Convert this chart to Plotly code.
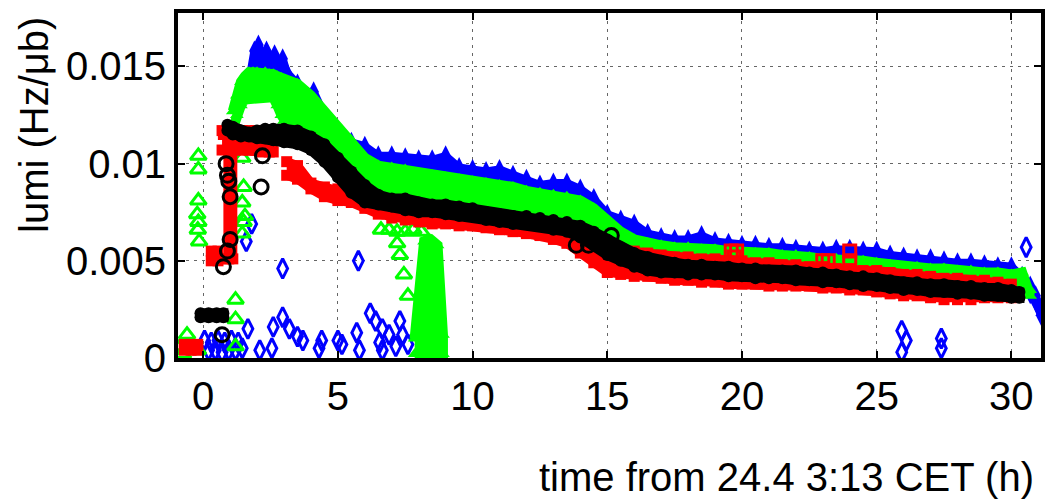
import plotly.graph_objects as go

# ---------------- data (time in h, lumi in Hz/ub) ----------------
x_ticks = [0, 5, 10, 15, 20, 25, 30]
x_ticktext = ["0", "5", "10", "15", "20", "25", "30"]
y_ticks = [0, 0.005, 0.01, 0.015]
y_ticktext = ["0", "0.005", "0.01", "0.015"]

# blue (diamonds) main band
blue_t = [1.75, 1.9, 2.05, 2.2, 2.35, 2.5, 2.65, 2.8, 2.95, 3.1,
          3.5, 4.0, 4.1, 4.5,
          5.0, 5.5, 6.0, 6.5, 7.0, 7.5, 8.0, 8.5, 9.0, 9.5, 10.0, 10.5, 11.0, 11.5,
          12.0, 12.5, 13.0, 13.5, 14.0, 14.5, 15.0, 15.5, 16.0, 16.5, 17.0, 17.5,
          18.0, 18.5, 19.0, 19.5, 20.0, 20.5, 21.0, 21.5, 22.0, 22.5, 23.0, 23.5,
          24.0, 24.5, 25.0, 25.5, 26.0, 26.5, 27.0, 27.5, 28.0, 28.5, 29.0, 29.5, 30.0,
          30.4, 30.7, 30.9, 31.1]
blue_hi = [0.0146, 0.0158, 0.0161, 0.0155, 0.0158, 0.0153, 0.0156, 0.0151, 0.0154, 0.0147,
           0.0141, 0.0134, 0.0137, 0.0125,
           0.0117, 0.0111, 0.0109, 0.0104, 0.0104, 0.0103, 0.0102, 0.0102, 0.0104, 0.0098,
           0.0097, 0.0096, 0.0097, 0.0094, 0.0092, 0.0089, 0.0090, 0.0090, 0.0087, 0.0082,
           0.0074, 0.0071, 0.0069, 0.0064, 0.0062, 0.0061, 0.0061, 0.0063, 0.0060, 0.0059,
           0.0058, 0.0058, 0.0057, 0.0057, 0.0056, 0.0055, 0.0055, 0.0056, 0.0056, 0.0055,
           0.0055, 0.0053, 0.0052, 0.0051, 0.0051, 0.0050, 0.0049, 0.0049, 0.0048, 0.0047,
           0.0047,
           0.0042, 0.0037, 0.0032, 0.0025]
blue_lo = [0.0138, 0.0142, 0.0143, 0.0143, 0.0143, 0.0143, 0.0143, 0.0142, 0.0141, 0.0140,
           0.0136, 0.0130, 0.0128, 0.0120,
           0.0112, 0.0105, 0.0098, 0.0096, 0.0095, 0.0094, 0.0092, 0.0091, 0.0090, 0.0089,
           0.0088, 0.0087, 0.0086, 0.0085, 0.0083, 0.0082, 0.0081, 0.0080, 0.0078, 0.0074,
           0.0068, 0.0062, 0.0058, 0.0056, 0.0055, 0.0054, 0.0054, 0.0053, 0.0053, 0.0052,
           0.0052, 0.0051, 0.0051, 0.0050, 0.0050, 0.0049, 0.0048, 0.0048, 0.0047, 0.0047,
           0.0046, 0.0045, 0.0044, 0.0044, 0.0043, 0.0043, 0.0042, 0.0042, 0.0041, 0.0041,
           0.0040,
           0.0038, 0.0033, 0.0029, 0.0022]
blue_out_x = [0.05, 0.3, 0.55, 0.8, 1.05, 1.3, 0.2, 0.45, 0.7, 0.95, 1.2, 1.45,
              1.6, 1.8, 1.66, 2.1, 2.55, 2.6, 2.95, 2.95, 3.2, 3.5, 3.7, 4.3, 4.4,
              5.0, 5.15, 5.7, 5.76, 5.8, 6.2, 6.4, 6.55, 6.65, 6.65, 6.9, 7.15, 7.3,
              7.4, 7.6, 25.93, 26.1, 25.93, 27.4, 27.4, 30.55]
blue_out_y = [0.0009, 0.0008, 0.0009, 0.0008, 0.0009, 0.0008, 0.0004, 0.0004, 0.0003,
              0.0004, 0.0004, 0.0005,
              0.0060, 0.0069, 0.0015, 0.0004, 0.0005, 0.0016, 0.0021, 0.0046, 0.0015,
              0.0011, 0.0009, 0.0005, 0.0009, 0.0009, 0.0007, 0.0013, 0.0050, 0.0004,
              0.0023, 0.0019, 0.0008, 0.0015, 0.0004, 0.0012, 0.0006, 0.0019, 0.0012,
              0.0007, 0.0014, 0.0009, 0.0003, 0.0010, 0.0005, 0.0057]

# green (triangles) main band
green_t = [1.1, 1.25, 1.4, 1.55, 1.7, 1.85, 2.0, 2.15, 2.3, 2.45, 2.6, 2.75, 2.9, 3.0,
           3.5, 4.0, 4.5, 5.0, 5.5, 6.0, 6.5, 7.0, 7.5, 8.0, 8.5, 9.0, 9.5, 10.0, 10.5,
           11.0, 11.5, 12.0, 12.5, 13.0, 13.5, 14.0, 14.5, 15.0, 15.5, 16.0, 16.5, 17.0,
           17.5, 18.0, 18.5, 19.0, 19.5, 20.0, 20.5, 21.0, 21.5, 22.0, 22.5, 23.0, 23.5,
           24.0, 24.5, 25.0, 25.5, 26.0, 26.5, 27.0, 27.5, 28.0, 28.5, 29.0, 29.5, 30.0,
           30.4, 30.7]
green_hi = [0.0127, 0.0135, 0.0142, 0.0145, 0.0147, 0.0147, 0.0147, 0.0146, 0.0147, 0.0146,
            0.0146, 0.0145, 0.0144, 0.0143,
            0.0141, 0.0135, 0.0127, 0.0119, 0.0112, 0.0103, 0.0099, 0.0098, 0.0097, 0.0095,
            0.0094, 0.0093, 0.0092, 0.0091, 0.0090, 0.0089, 0.0088, 0.0086, 0.0085, 0.0084,
            0.0083, 0.0081, 0.0077, 0.0071, 0.0065, 0.0061, 0.0059, 0.0058, 0.0057, 0.0057,
            0.0056, 0.0056, 0.0055, 0.0055, 0.0054, 0.0054, 0.0053, 0.0053, 0.0052, 0.0051,
            0.0051, 0.0050, 0.0050, 0.0049, 0.0048, 0.0047, 0.0047, 0.0046, 0.0046, 0.0045,
            0.0045, 0.0044, 0.0044, 0.0043,
            0.0044, 0.0035]
green_lo = [0.0118, 0.0125, 0.0130, 0.0133, 0.0134, 0.0134, 0.0134, 0.0134, 0.0134, 0.0134,
            0.0134, 0.0130, 0.0125, 0.0122,
            0.0112, 0.0109, 0.0103, 0.0095, 0.0088, 0.0083, 0.0081, 0.0078, 0.0076, 0.0075,
            0.0075, 0.0074, 0.0073, 0.0073, 0.0071, 0.0070, 0.0069, 0.0069, 0.0068, 0.0066,
            0.0065, 0.0062, 0.0058, 0.0053, 0.0050, 0.0047, 0.0045, 0.0044, 0.0044, 0.0043,
            0.0043, 0.0043, 0.0042, 0.0042, 0.0041, 0.0041, 0.0041, 0.0040, 0.0040, 0.0039,
            0.0039, 0.0038, 0.0037, 0.0037, 0.0036, 0.0035, 0.0035, 0.0034, 0.0034, 0.0033,
            0.0033, 0.0032, 0.0032, 0.0031,
            0.0038, 0.0032]
# green dense column around 8-9 h
green_col_t = [7.85, 8.2, 8.45, 8.7, 8.9]
green_col_hi = [0.0010, 0.0060, 0.0061, 0.0058, 0.0012]
green_col_lo = [0.0002, 0.0002, 0.0002, 0.0002, 0.0002]
green_out_x = [-0.18, -0.18, -0.18, -0.22, -0.18, -0.2, -0.15,
               -0.85, -0.6, -0.45, -0.2, -0.75,
               1.2, 1.2, 1.2,
               1.45, 1.5, 1.45, 1.55, 1.5, 1.45,
               6.6, 6.9, 7.2, 7.5, 7.8, 8.1,
               7.2, 7.3, 7.45, 7.6]
green_out_y = [0.0104, 0.0097, 0.0081, 0.0074, 0.0070, 0.0066, 0.0060,
               0.0006, 0.0012, 0.0005, 0.0004, 0.0002,
               0.0030, 0.0020, 0.0006,
               0.0103, 0.0088, 0.0080, 0.0073, 0.0070, 0.0064,
               0.0066, 0.0066, 0.0065, 0.0065, 0.0066, 0.0065,
               0.0059, 0.0053, 0.0043, 0.0032]

# red (squares)
red_t = [3.1, 3.5, 4.0, 4.5, 5.0, 5.5, 6.0, 6.5, 7.0, 7.5, 8.0, 8.5, 9.0, 9.5, 10.0,
         10.5, 11.0, 11.5, 12.0, 12.5, 13.0, 13.5, 14.0, 14.5, 15.0, 15.5, 16.0, 16.5,
         17.0, 17.5, 18.0, 18.5, 19.0, 19.5, 20.0, 20.5, 21.0, 21.5, 22.0, 22.5, 23.0,
         23.5, 24.0, 24.5, 25.0, 25.5, 26.0, 26.5, 27.0, 27.5, 28.0, 28.5, 29.0, 29.5, 30.0]
red_hi = [0.0101, 0.0099, 0.0090, 0.0088, 0.0087, 0.0084, 0.0081, 0.0079, 0.0077, 0.0076,
          0.0075, 0.0074, 0.0074, 0.0073, 0.0072, 0.0071, 0.0070, 0.0069, 0.0068, 0.0067,
          0.0066, 0.0065, 0.0063, 0.0060, 0.0058, 0.0056, 0.0055, 0.0054, 0.0053, 0.0052,
          0.0052, 0.0051, 0.0051, 0.0050, 0.0050, 0.0049, 0.0049, 0.0048, 0.0048, 0.0047,
          0.0047, 0.0046, 0.0046, 0.0045, 0.0045, 0.0044, 0.0043, 0.0043, 0.0042, 0.0041,
          0.0041, 0.0040, 0.0040, 0.0039, 0.0038]
red_lo = [0.0094, 0.0092, 0.0087, 0.0083, 0.0081, 0.0080, 0.0077, 0.0074, 0.0072, 0.0071,
          0.0070, 0.0069, 0.0069, 0.0068, 0.0068, 0.0067, 0.0066, 0.0065, 0.0064, 0.0063,
          0.0061, 0.0059, 0.0054, 0.0049, 0.0044, 0.0043, 0.0042, 0.0042, 0.0041, 0.0040,
          0.0040, 0.0039, 0.0039, 0.0038, 0.0038, 0.0038, 0.0037, 0.0037, 0.0037, 0.0037,
          0.0036, 0.0036, 0.0035, 0.0035, 0.0034, 0.0033, 0.0032, 0.0032, 0.0031, 0.0030,
          0.0030, 0.0030, 0.0031, 0.0031, 0.0031]
red_plateau_t = [0.7, 0.95, 1.2, 1.45, 1.7, 1.95, 2.2, 2.45, 2.6]
red_plateau_hi = [0.0117, 0.0117, 0.0117, 0.0117, 0.0117, 0.0117, 0.0117, 0.0116, 0.0115]
red_plateau_lo = [0.0107, 0.0107, 0.0107, 0.0107, 0.0107, 0.0107, 0.0106, 0.0106, 0.0106]
red_column_t = [0.75, 0.95, 1.1]
red_column_hi = [0.0115, 0.0115, 0.0110]
red_column_lo = [0.0051, 0.0051, 0.0051]
red_block_t = [0.3, 0.55]
red_block_hi = [0.0055, 0.0055]
red_block_lo = [0.0050, 0.0050]
red_start_t = [-0.7, -0.45, -0.2]
red_start_hi = [0.0007, 0.0007, 0.0007]
red_start_lo = [0.0004, 0.0004, 0.0004]
red_out_x = [19.6, 19.8, 19.7, 23.0, 23.2, 24.0, 24.0]
red_out_y = [0.0055, 0.0055, 0.0052, 0.0050, 0.0050, 0.0055, 0.0050]

# black (circles)
black_t = [0.9, 1.1, 1.4, 1.7, 2.0, 2.3, 2.6, 3.0,
           3.5, 4.0, 4.5, 5.0, 5.5, 6.0, 6.5, 7.0, 7.5, 8.0, 8.5, 9.0, 9.5, 10.0, 10.5,
           11.0, 11.5, 12.0, 12.5, 13.0, 13.5, 14.0, 14.5, 15.0, 15.5, 16.0, 16.5, 17.0,
           17.5, 18.0, 18.5, 19.0, 19.5, 20.0, 20.5, 21.0, 21.5, 22.0, 22.5, 23.0, 23.5,
           24.0, 24.5, 25.0, 25.5, 26.0, 26.5, 27.0, 27.5, 28.0, 28.5, 29.0, 29.5, 30.0,
           30.3]
black_hi = [0.0120, 0.0119, 0.0117, 0.0116, 0.0117, 0.0118, 0.0118, 0.0118,
            0.0117, 0.0114, 0.0110, 0.0103, 0.0096, 0.0089, 0.0084, 0.0082, 0.0082, 0.0080,
            0.0079, 0.0079, 0.0078, 0.0077, 0.0075, 0.0074, 0.0073, 0.0073, 0.0072, 0.0071,
            0.0070, 0.0068, 0.0065, 0.0061, 0.0057, 0.0054, 0.0052, 0.0050, 0.0049, 0.0048,
            0.0048, 0.0047, 0.0047, 0.0046, 0.0046, 0.0045, 0.0045, 0.0045, 0.0044, 0.0044,
            0.0043, 0.0042, 0.0042, 0.0041, 0.0040, 0.0039, 0.0039, 0.0038, 0.0038, 0.0037,
            0.0037, 0.0036, 0.0036, 0.0035,
            0.0034]
black_lo = [0.0117, 0.0115, 0.0114, 0.0114, 0.0113, 0.0113, 0.0112, 0.0111,
            0.0110, 0.0107, 0.0101, 0.0093, 0.0085, 0.0080, 0.0079, 0.0078, 0.0076, 0.0075,
            0.0075, 0.0074, 0.0073, 0.0073, 0.0071, 0.0070, 0.0069, 0.0069, 0.0068, 0.0066,
            0.0065, 0.0062, 0.0058, 0.0053, 0.0050, 0.0047, 0.0045, 0.0044, 0.0044, 0.0043,
            0.0043, 0.0043, 0.0042, 0.0042, 0.0041, 0.0041, 0.0041, 0.0040, 0.0040, 0.0039,
            0.0039, 0.0038, 0.0037, 0.0037, 0.0036, 0.0035, 0.0035, 0.0034, 0.0034, 0.0033,
            0.0033, 0.0032, 0.0032, 0.0031,
            0.0031]
black_blob_t = [-0.1, 0.2, 0.5, 0.75]
black_blob_hi = [0.0023, 0.0023, 0.0023, 0.0023]
black_blob_lo = [0.0021, 0.0021, 0.0021, 0.0021]
black_out_x = [0.85, 0.9, 0.95, 1.0, 1.0, 0.9, 0.75, 0.7, 2.2, 2.15, 13.85, 14.3, 15.15]
black_out_y = [0.0100, 0.0094, 0.0091, 0.0083, 0.0061, 0.0055, 0.0047, 0.0012, 0.0104,
               0.0088, 0.0058, 0.0058, 0.0063]

# ---------------- figure ----------------
BLUE, GREEN, RED, BLACK = "#0000ff", "#00ff00", "#ff0000", "#000000"
fig = go.Figure()


def band(t, hi, lo, color, symbol, size, edge):
    assert len(t) == len(hi) == len(lo)
    fig.add_trace(go.Scatter(x=list(t) + list(t)[::-1], y=list(hi) + list(lo)[::-1],
                             mode="lines", fill="toself", fillcolor=color,
                             line=dict(width=edge, color=color),
                             hoverinfo="skip"))
    fig.add_trace(go.Scatter(x=list(t) + list(t), y=list(hi) + list(lo), mode="markers",
                             marker=dict(symbol=symbol, size=size, color=color,
                                         line=dict(width=0)), hoverinfo="skip"))


def points(x, y, color, symbol, size):
    assert len(x) == len(y)
    fig.add_trace(go.Scatter(x=x, y=y, mode="markers",
                             marker=dict(symbol=symbol + "-open", size=size, color=color,
                                         line=dict(width=3, color=color)),
                             hoverinfo="skip"))


# blue
band(blue_t, blue_hi, blue_lo, BLUE, "diamond-tall", 15, 8)
points(blue_out_x, blue_out_y, BLUE, "diamond-tall", 14)
# green
band(green_t, green_hi, green_lo, GREEN, "triangle-up", 12, 10)
band(green_col_t, green_col_hi, green_col_lo, GREEN, "triangle-up", 12, 10)
points(green_out_x, green_out_y, GREEN, "triangle-up", 14)
# red
band(red_start_t, red_start_hi, red_start_lo, RED, "square", 11, 9)
band(red_block_t, red_block_hi, red_block_lo, RED, "square", 11, 9)
band(red_column_t, red_column_hi, red_column_lo, RED, "square", 11, 9)
band(red_plateau_t, red_plateau_hi, red_plateau_lo, RED, "square", 11, 9)
band(red_t, red_hi, red_lo, RED, "square", 11, 9)
points(red_out_x, red_out_y, RED, "square", 12)
# black
band(black_blob_t, black_blob_hi, black_blob_lo, BLACK, "circle", 12, 10)
band(black_t, black_hi, black_lo, BLACK, "circle", 12, 10)
points(black_out_x, black_out_y, BLACK, "circle", 14)

FONT = "Liberation Sans, Arial, Helvetica, sans-serif"
axis_common = dict(
    showline=True, linewidth=4, linecolor="black", mirror="ticks",
    ticks="inside", ticklen=7, tickwidth=1.5, tickcolor="black",
    showgrid=True, gridcolor="#666666", gridwidth=1, griddash="3px,5px",
    zeroline=False, tickfont=dict(family=FONT, size=40, color="black"),
)
fig.update_xaxes(range=[-0.935, 31.1], tickvals=x_ticks, ticktext=x_ticktext,
                 ticklabelstandoff=0, **axis_common)
fig.update_yaxes(range=[0, 0.01775], tickvals=y_ticks, ticktext=y_ticktext,
                 **axis_common)

fig.update_layout(
    width=1048, height=499,
    margin=dict(l=178, r=3, t=13, b=141),
    plot_bgcolor="white", paper_bgcolor="white",
    showlegend=False,
    font=dict(family=FONT, size=40, color="black"),
    annotations=[
        dict(text="lumi (Hz/\u03bcb)", textangle=-90, xref="paper", yref="paper",
             x=-0.167, y=0.675, xanchor="center", yanchor="middle", showarrow=False,
             font=dict(family=FONT, size=40, color="black")),
        dict(text="time from 24.4 3:13 CET (h)", xref="paper", yref="paper",
             x=0.9942, y=-0.345, xanchor="right", yanchor="middle", showarrow=False,
             font=dict(family=FONT, size=40, color="black")),
    ],
)

fig.write_html("out.html", config={"displayModeBar": False},
               post_script="document.body.style.margin='0';document.body.style.padding='0';")
